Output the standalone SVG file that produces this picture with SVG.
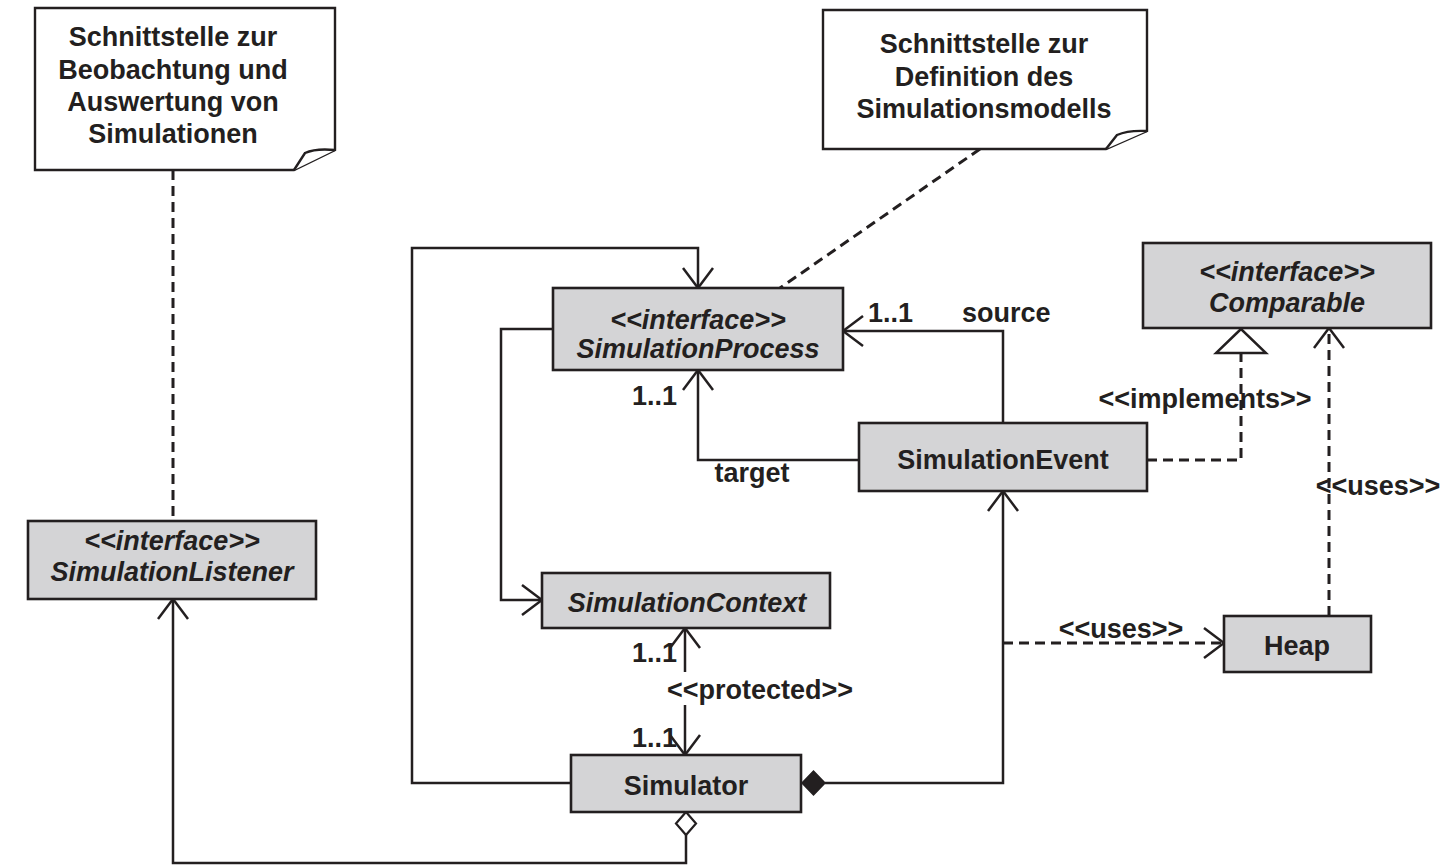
<svg xmlns="http://www.w3.org/2000/svg" width="1447" height="865" viewBox="0 0 1447 865">
<style>
text{font-family:"Liberation Sans",Arial,Helvetica,sans-serif;font-weight:bold;font-size:27px;fill:#231f20}
.c{text-anchor:middle}
.i{font-style:italic}
.box{fill:#d4d4d6;stroke:#231f20;stroke-width:2.6}
.note{fill:#ffffff;stroke:#231f20;stroke-width:2.4;stroke-linejoin:miter}
.ln{fill:none;stroke:#231f20;stroke-width:2.5}
.dash{stroke-dasharray:10 6;stroke-width:3}
</style>
<defs>
<marker id="open" viewBox="-23 -17 25 34" refX="0" refY="0" markerWidth="25" markerHeight="34" markerUnits="userSpaceOnUse" orient="auto">
<path d="M-20,-15 L0,0 L-20,15" fill="none" stroke="#231f20" stroke-width="2.5"/>
</marker>
<marker id="tri" viewBox="-27 -28 29 56" refX="0" refY="0" markerWidth="29" markerHeight="56" markerUnits="userSpaceOnUse" orient="auto">
<path d="M0,0 L-24,-25 L-24,25 Z" fill="#ffffff" stroke="#231f20" stroke-width="2.5"/>
</marker>
</defs>
<rect x="0" y="0" width="1447" height="865" fill="#ffffff"/>

<g id="connectors">
<path class="ln dash" d="M173,170 V521"/>
<path class="ln dash" d="M980,149 L780,288"/>
<path class="ln" d="M571,783 H412 V248 H698 V288" marker-end="url(#open)"/>
<path class="ln" d="M553,329 H501 V600 H542" marker-end="url(#open)"/>
<path class="ln" d="M859,460 H698 V370" marker-end="url(#open)"/>
<path class="ln" d="M1003,423 V331 H843" marker-end="url(#open)"/>
<path class="ln dash" d="M1147,460 H1241 V329" marker-end="url(#tri)"/>
<path class="ln dash" d="M1329,616 V328" marker-end="url(#open)"/>
<path class="ln dash" d="M1003,643 H1224" marker-end="url(#open)"/>
<path class="ln" d="M825,783 H1003 V491" marker-end="url(#open)"/>
<polygon points="802,783 813.5,771 825,783 813.5,795" fill="#231f20" stroke="#231f20" stroke-width="1.5"/>
<path class="ln" d="M685,672 V628" marker-end="url(#open)"/>
<path class="ln" d="M685,705 V755" marker-end="url(#open)"/>
<path class="ln" d="M686,835 V863 H173 V599" marker-end="url(#open)"/>
<polygon points="686,812 696,823.5 686,835 676,823.5" fill="#ffffff" stroke="#231f20" stroke-width="2.2"/>
<text x="677" y="405" text-anchor="end">1..1</text>
<text x="752" y="482" class="c">target</text>
<text x="868" y="322">1..1</text>
<text x="962" y="322">source</text>
<text x="1205" y="408" class="c">&lt;&lt;implements&gt;&gt;</text>
<text x="1378" y="495" class="c">&lt;&lt;uses&gt;&gt;</text>
<text x="1121" y="638" class="c">&lt;&lt;uses&gt;&gt;</text>
<text x="677" y="662" text-anchor="end">1..1</text>
<text x="760" y="699" class="c">&lt;&lt;protected&gt;&gt;</text>
<text x="677" y="747" text-anchor="end">1..1</text>
</g>

<g id="note-listener">
<path class="note" d="M35,8 H335 V150 L294,170 H35 Z"/>
<path class="note" d="M335,150 Q316,148 305,153 L294,170" fill="none"/>
<text x="173" y="46" class="c">Schnittstelle zur</text>
<text x="173" y="79" class="c">Beobachtung und</text>
<text x="173" y="111" class="c">Auswertung von</text>
<text x="173" y="143" class="c">Simulationen</text>
</g>

<g id="note-model">
<path class="note" d="M823,10 H1147 V131 L1106,149 H823 Z"/>
<path class="note" d="M1147,131 Q1128,130 1117,135 L1106,149" fill="none"/>
<text x="984" y="53" class="c">Schnittstelle zur</text>
<text x="984" y="86" class="c">Definition des</text>
<text x="984" y="118" class="c">Simulationsmodells</text>
</g>

<g id="SimulationProcess">
<rect class="box" x="553" y="288" width="290" height="82"/>
<text x="698" y="329" class="c i">&lt;&lt;interface&gt;&gt;</text>
<text x="698" y="358" class="c i">SimulationProcess</text>
</g>

<g id="Comparable">
<rect class="box" x="1143" y="243" width="288" height="85"/>
<text x="1287" y="281" class="c i">&lt;&lt;interface&gt;&gt;</text>
<text x="1287" y="312" class="c i">Comparable</text>
</g>

<g id="SimulationEvent">
<rect class="box" x="859" y="423" width="288" height="68"/>
<text x="1003" y="469" class="c">SimulationEvent</text>
</g>

<g id="SimulationListener">
<rect class="box" x="28" y="521" width="288" height="78"/>
<text x="172" y="550" class="c i">&lt;&lt;interface&gt;&gt;</text>
<text x="172" y="581" class="c i">SimulationListener</text>
</g>

<g id="SimulationContext">
<rect class="box" x="542" y="573" width="288" height="55"/>
<text x="687" y="612" class="c i">SimulationContext</text>
</g>

<g id="Heap">
<rect class="box" x="1224" y="616" width="147" height="56"/>
<text x="1297" y="655" class="c">Heap</text>
</g>

<g id="Simulator">
<rect class="box" x="571" y="755" width="230" height="57"/>
<text x="686" y="795" class="c">Simulator</text>
</g>
</svg>
